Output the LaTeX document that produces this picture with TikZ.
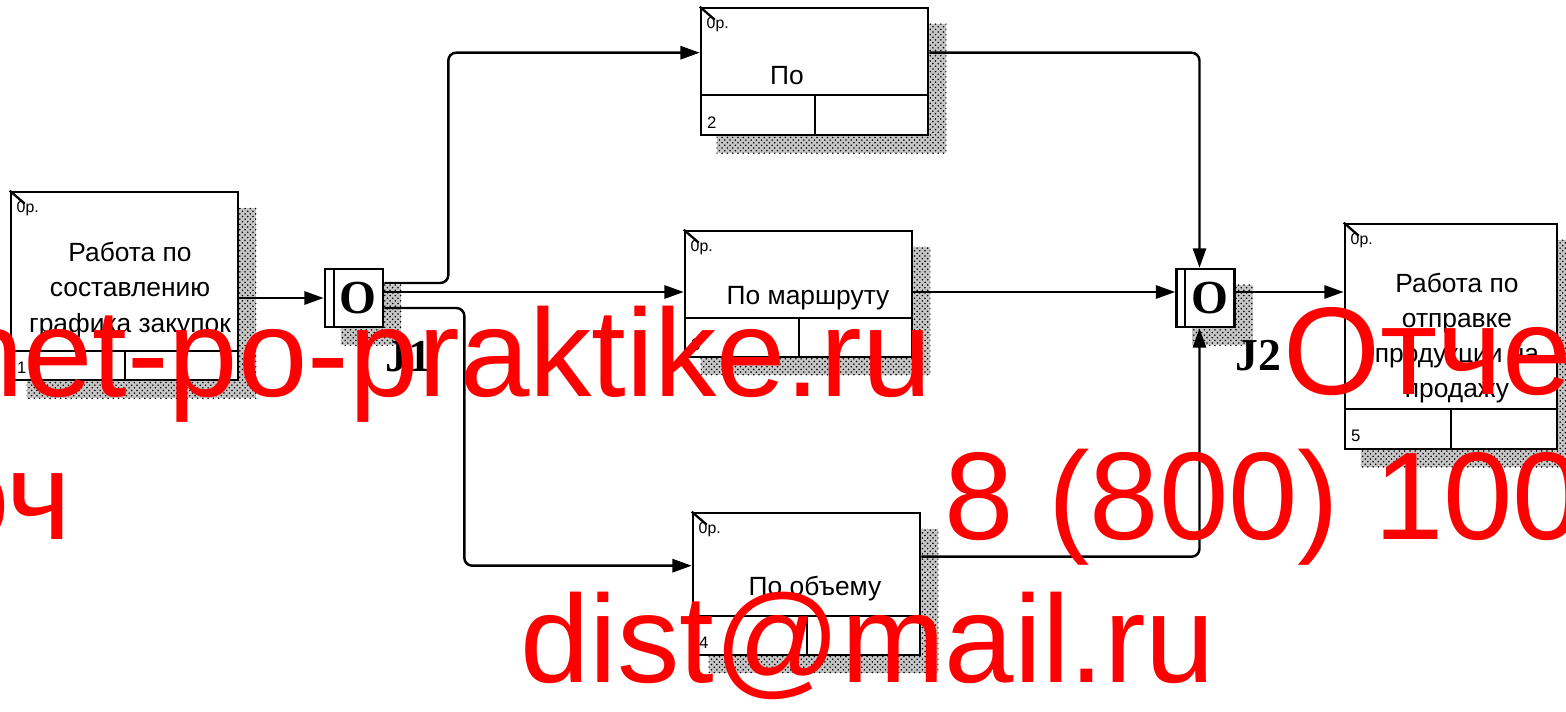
\documentclass[tikz,border=0pt]{standalone}
\usepackage{fontspec}
\setmainfont{Liberation Sans}
\newfontfamily\jfont{Liberation Serif}
\usetikzlibrary{arrows.meta, calc, patterns}
\pgfdeclarelayer{background}
\pgfsetlayers{background,main}

\begin{document}
\begin{tikzpicture}[x=0.02cm, y=-0.02cm,
    arr/.style={-{Triangle[length=11pt, width=7.5pt]}, line width=1.4pt, rounded corners=4.5pt},
    act/.style={draw, line width=1.5pt, fill=white, inner sep=0pt, minimum width=4.54cm},
    jnc/.style={draw, line width=1.5pt, fill=white, inner sep=0pt, minimum size=1.16cm,
                font=\jfont\bfseries\fontsize{27}{27}\selectfont},
    shd/.style={fill=gray!45, postaction={pattern=crosshatch dots, pattern color=black}},
    cell/.style={line width=1.3pt},
    txt/.style={align=center, font=\fontsize{15}{20}\selectfont},
    cost/.style={font=\fontsize{9}{9}\selectfont, inner sep=0pt},
    num/.style={font=\fontsize{9.5}{9.5}\selectfont, inner sep=0pt},
    jlab/.style={font=\jfont\bfseries\fontsize{26}{26}\selectfont, inner sep=0pt},
    wm/.style={text=red, inner sep=0pt, font=\fontsize{71}{71}\selectfont}]

  \useasboundingbox (0,0) rectangle (1566,712);

  % ----- activity boxes -----
  \node[act, minimum height=3.76cm] at (124.5,286) (b1) {};
  \node[act, minimum height=2.54cm] at (814.5,71.5) (b2) {};
  \node[act, minimum height=2.52cm] at (798.5,294) (b3) {};
  \node[act, minimum height=2.84cm] at (806.5,584) (b4) {};
  \node[act, minimum width=4.24cm, minimum height=4.5cm] at (1451,336.5) (b5) {};

  % ----- junctions -----
  \node[jnc] at (354,298) (j1) {\,O};
  \node[jnc] at (1205.5,298) (j2) {\,O};
  \draw[cell] ($(j1.north west)+(10,0)$) -- ($(j1.south west)+(10,0)$);
  \draw[cell] ($(j2.north west)+(10,0)$) -- ($(j2.south west)+(10,0)$);
  \node[jlab] at (408,357) (l1) {J1};
  \node[jlab] at (1258,356) (l2) {J2};

  % ----- shadows -----
  \begin{pgfonlayer}{background}
    \fill[shd] ($(b1.north west)+(17,17)$) rectangle ($(b1.south east)+(17,17)$);
    \fill[shd] ($(b2.north west)+(17,17)$) rectangle ($(b2.south east)+(17,17)$);
    \fill[shd] ($(b3.north west)+(17,17)$) rectangle ($(b3.south east)+(17,17)$);
    \fill[shd] ($(b4.north west)+(17,17)$) rectangle ($(b4.south east)+(17,17)$);
    \fill[shd] ($(b5.north west)+(17,17)$) rectangle ($(b5.south east)+(17,17)$);
    \fill[shd] ($(j1.north west)+(17,17)$) rectangle ($(j1.south east)+(17,17)$);
    \fill[shd] ($(j2.north west)+(17,17)$) rectangle ($(j2.south east)+(17,17)$);
  \end{pgfonlayer}

  % ----- box cells -----
  \draw[cell] ($(b1.south west)+(0,-30)$) -- ($(b1.south east)+(0,-30)$)
              ($(b1.south west)+(115,-30)$) -- ($(b1.south west)+(115,0)$);
  \draw[cell] ($(b2.south west)+(0,-41)$) -- ($(b2.south east)+(0,-41)$)
              ($(b2.south west)+(115,-41)$) -- ($(b2.south west)+(115,0)$);
  \draw[cell] ($(b3.south west)+(0,-40)$) -- ($(b3.south east)+(0,-40)$)
              ($(b3.south west)+(115,-40)$) -- ($(b3.south west)+(115,0)$);
  \draw[cell] ($(b4.south west)+(0,-40)$) -- ($(b4.south east)+(0,-40)$)
              ($(b4.south west)+(115,-40)$) -- ($(b4.south west)+(115,0)$);
  \draw[cell] ($(b5.south west)+(0,-41)$) -- ($(b5.south east)+(0,-41)$)
              ($(b5.south west)+(107,-41)$) -- ($(b5.south west)+(107,0)$);

  % corner ticks
  \draw[cell] (b1.north west) -- ++(15,13);
  \draw[cell] (b2.north west) -- ++(15,13);
  \draw[cell] (b3.north west) -- ++(15,13);
  \draw[cell] (b4.north west) -- ++(15,13);
  \draw[cell] (b5.north west) -- ++(15,13);

  % ----- box texts -----
  \node[txt] at (130,290) (t1) {Работа по\\составлению\\графика закупок};
  \node[txt] at (787,76) (t2) {По};
  \node[txt] at (808,298) (t3) {По маршруту};
  \node[txt] at (815,589) (t4) {По объему};
  \node[txt] at (1457,338) (t5) {Работа по\\отправке\\продукции на\\продажу};

  \node[cost] at ($(b1.north west)+(18,18)$) (c1) {0р.};
  \node[cost] at ($(b2.north west)+(18,18)$) (c2) {0р.};
  \node[cost] at ($(b3.north west)+(18,18)$) (c3) {0р.};
  \node[cost] at ($(b4.north west)+(18,18)$) (c4) {0р.};
  \node[cost] at ($(b5.north west)+(18,18)$) (c5) {0р.};

  \node[num] at ($(b1.south west)+(12,-14)$) (n1) {1};
  \node[num] at ($(b2.south west)+(12,-14)$) (n2) {2};
  \node[num] at ($(b3.south west)+(12,-14)$) (n3) {3};
  \node[num] at ($(b4.south west)+(12,-14)$) (n4) {4};
  \node[num] at ($(b5.south west)+(12,-14)$) (n5) {5};

  % ----- arrows -----
  \draw[arr] (b1.east |- j1.west) -- (j1.west);
  \draw[arr] ($(j1.east)+(0,-15)$) -- ++(64,0) |- ($(b2.north west)+(0,46)$);
  \draw[arr] ($(j1.east)+(0,-6)$) coordinate (m1) -- (m1 -| b3.west);
  \draw[arr] ($(j1.east)+(0,10)$) -- ++(80,0) |- ($(b4.north west)+(0,54)$);
  \draw[arr] ($(b2.north east)+(0,46)$) -| ($(j2.north)+(-6,0)$);
  \draw[arr] ($(b3.east)+(0,-2)$) coordinate (m2) -- (m2 -| j2.west);
  \draw[arr] ($(b4.north east)+(0,45)$) -| ($(j2.south)+(-6,0)$);
  \draw[arr] ($(j2.east)+(0,-6)$) coordinate (m3) -- (m3 -| b5.west);

  % ----- watermark -----
  \begin{scope}
    \clip (0,0) rectangle (1566,712);
    \node[wm, anchor=base east] at (932,397) (w1) {otchet-po-praktike.ru};
    \node[wm, anchor=base west] at (1283,395) (w2) {Отчет};
    \node[wm, anchor=base east] at (72,540) (w3) {оч};
    \node[wm, anchor=base west] at (944,540) (w4) {8 (800) 100};
    \node[wm, anchor=base west] at (520,683) (w5) {dist@mail.ru};
  \end{scope}

\end{tikzpicture}
\end{document}
